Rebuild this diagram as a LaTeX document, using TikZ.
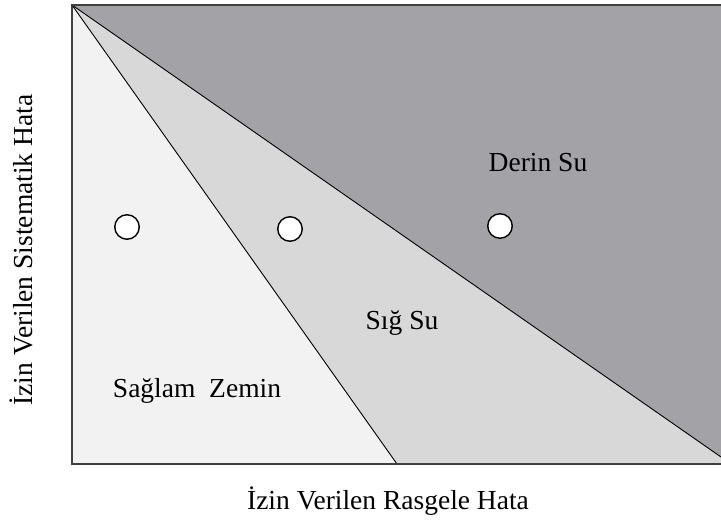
\documentclass[tikz,border=0pt]{standalone}
\usepackage{fontspec}
\setmainfont{Liberation Serif}
\definecolor{lightreg}{HTML}{F2F2F2}
\definecolor{midreg}{HTML}{D8D8D8}
\definecolor{darkreg}{HTML}{A3A2A7}
\definecolor{framec}{HTML}{404040}
\tikzset{
  lbl/.style={font=\fontsize{27.5}{32}\selectfont, inner sep=0pt},
  dot/.style={circle, draw=black, fill=white, line width=1.4pt, minimum size=24.5pt, inner sep=0pt},
  divider/.style={draw=black, line width=0.9pt}
}
\begin{document}
\begin{tikzpicture}[x=1pt,y=-1pt]
\useasboundingbox (0,0) rectangle (721,529);
\coordinate (tl) at (72,5);
\coordinate (tr) at (721,5);
\coordinate (br) at (721,464);
\coordinate (bl) at (72,464);
\coordinate (b1) at (397,464);
\coordinate (r1) at (721,457);
\fill[lightreg] (tl) -- (b1) -- (bl) -- cycle;
\fill[midreg] (tl) -- (r1) -- (br) -- (b1) -- cycle;
\fill[darkreg] (tl) -- (tr) -- (r1) -- cycle;
\draw[divider] (tl) -- (b1);
\draw[divider] (tl) -- (r1);
\draw[framec, line width=2pt] (tr) -- (tl) -- (bl) -- (br);
\node[dot] (c1) at (127,227) {};
\node[dot] (c2) at (290,229) {};
\node[dot] (c3) at (500,226) {};
\node[lbl] (deep) at (538,163) {Derin Su};
\node[lbl] (shallow) at (402,323) {Sığ Su};
\node[lbl] (solid) at (197,391) {Sağlam\ \ Zemin};
\node[lbl] (xlab) at (388,501) {İzin Verilen Rasgele Hata};
\node[lbl, rotate=90] (ylab) at (21,250) {İzin Verilen Sistematik Hata};
\end{tikzpicture}
\end{document}
